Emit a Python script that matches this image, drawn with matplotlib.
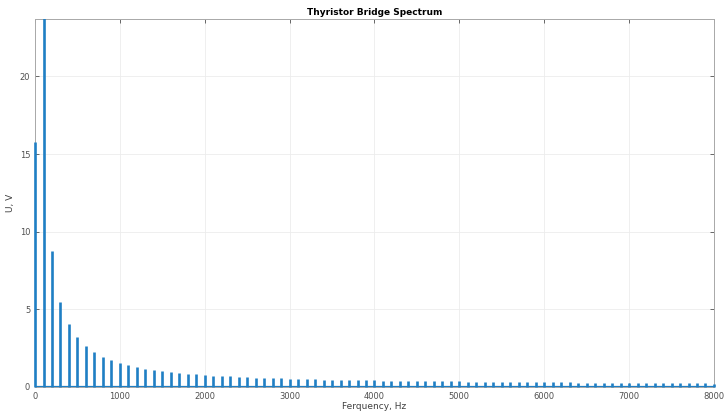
import numpy as np
import matplotlib.pyplot as plt
from matplotlib.patches import Rectangle

# harmonics of the rectified voltage, 100 Hz step
freq = np.arange(0, 8001, 100)
amp = [15.8, 26.0, 8.73, 5.50, 4.04, 3.20, 2.67, 2.24, 1.96, 1.74,
       1.57, 1.42, 1.29, 1.19, 1.10, 1.02, 0.96, 0.90, 0.86, 0.82,
       0.78, 0.74, 0.71, 0.68, 0.65, 0.63, 0.61, 0.59, 0.57, 0.55,
       0.53, 0.52, 0.50, 0.49, 0.48, 0.47, 0.46, 0.45, 0.44, 0.43,
       0.42, 0.41, 0.41, 0.40, 0.39, 0.39, 0.38, 0.37, 0.37, 0.36,
       0.36, 0.35, 0.35, 0.34, 0.33, 0.33, 0.32, 0.32, 0.31, 0.31,
       0.30, 0.30, 0.29, 0.29, 0.28, 0.28, 0.27, 0.27, 0.27, 0.26,
       0.26, 0.25, 0.25, 0.25, 0.24, 0.24, 0.24, 0.23, 0.23, 0.23,
       0.22]

blue = '#1f7fc4'

fig = plt.figure(figsize=(7.25, 4.12), dpi=100)
ax = fig.add_axes([0.0483, 0.0607, 0.9365, 0.8933])

stems = ax.vlines(freq, 0, amp, color=blue, linewidth=1.9, zorder=3)
base = ax.axhline(0, color=blue, linewidth=1.6, zorder=3)
# let the edge stems show in full on the axes border, clip only at the top
clip = Rectangle((-0.01, -0.01), 1.02, 1.01, transform=ax.transAxes,
                 fill=False, visible=False)
ax.add_patch(clip)
stems.set_clip_path(clip)

ax.set_xlim(0, 8000)
ax.set_ylim(0, 23.7)
ax.set_xticks(np.arange(0, 8001, 1000))
ax.set_yticks([0, 5, 10, 15, 20])
ax.grid(True, color='#ececec', linewidth=0.6)
ax.set_axisbelow(True)

ax.tick_params(direction='in', length=3, width=0.6, labelsize=6,
               colors='#505050', top=True, right=True, labeltop=False, labelright=False)
for s in ax.spines.values():
    s.set_color('#a8a8a8')
    s.set_linewidth(0.7)

ax.set_title('Thyristor Bridge Spectrum', fontsize=6.5, fontweight='bold', pad=3)
ax.set_xlabel('Ferquency, Hz', fontsize=6.5, color='#404040', labelpad=1)
ax.set_ylabel('U, V', fontsize=6.5, color='#404040', labelpad=3)

fig.savefig('out.png', dpi=100)
